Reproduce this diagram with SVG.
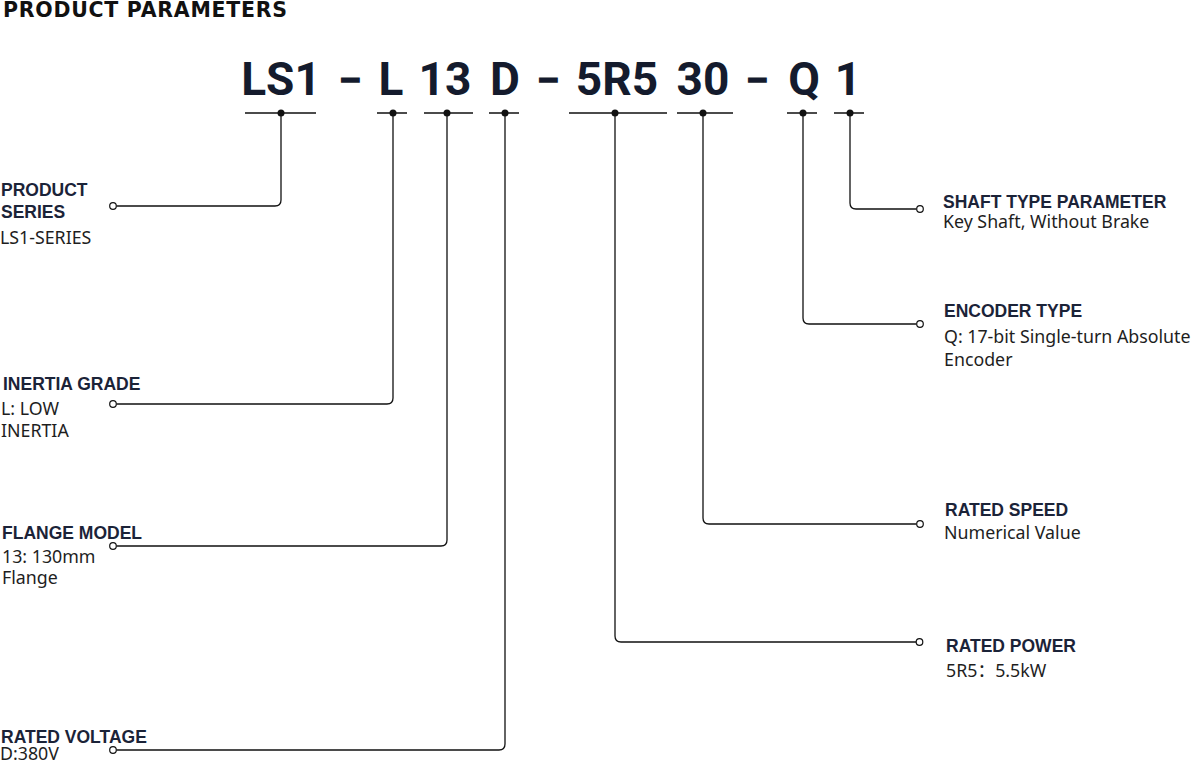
<svg xmlns="http://www.w3.org/2000/svg" width="1194" height="763" viewBox="0 0 1194 763">
<style>
.title{font-family:"DejaVu Sans","Liberation Sans",sans-serif;font-weight:700;font-size:20.5px;fill:#111}
.code{font-family:Roboto,"Liberation Sans",sans-serif;font-weight:700;font-size:46px;fill:#141b2d;text-anchor:middle}
.dash{font-family:Roboto,"Liberation Sans",sans-serif;font-weight:700;font-size:34px;fill:#141b2d;stroke:#141b2d;stroke-width:1.6;text-anchor:middle}
.hd{font-family:"Liberation Sans",Arial,sans-serif;font-weight:700;font-size:17.5px;fill:#1b2338}
.ds{font-family:"Noto Sans","Noto Sans CJK SC",sans-serif;font-size:17.8px;fill:#1e1e1e}
.ln{fill:none;stroke:#111;stroke-width:1.3}
.dot{fill:#111}
.end{fill:#fff;stroke:#111;stroke-width:1.2}
</style>
<rect width="1194" height="763" fill="#fff"/>
<text class="title" x="3" y="17" textLength="284">PRODUCT PARAMETERS</text>
<g id="code">
<text class="code" x="281" y="95">LS1</text>
<text class="dash" x="350" y="92">–</text>
<text class="code" x="391" y="95">L</text>
<text class="code" x="445" y="95">13</text>
<text class="code" x="505" y="95">D</text>
<text class="dash" x="548" y="92">–</text>
<text class="code" x="617" y="95">5R5</text>
<text class="code" x="703" y="95">30</text>
<text class="dash" x="757" y="92">–</text>
<text class="code" x="804" y="95">Q</text>
<text class="code" x="848" y="95">1</text>
</g>
<g id="connectors">
<path class="ln" d="M245 113H316M377 113H407M424 113H473M489 113H519M569 113H667M677 113H733M787 113H817M834 113H864"/>
<path class="ln" d="M281 113V200Q281 206 275 206H116.5"/>
<path class="ln" d="M393 113V398Q393 404 387 404H116.5"/>
<path class="ln" d="M447 113V540Q447 546 441 546H116.5"/>
<path class="ln" d="M505 113V744Q505 750 499 750H116.5"/>
<path class="ln" d="M615 113V636Q615 642 621 642H916"/>
<path class="ln" d="M703 113V518Q703 524 709 524H916.5"/>
<path class="ln" d="M803 113V318Q803 324 809 324H916.5"/>
<path class="ln" d="M850 113V203Q850 209 856 209H916.5"/>
<circle class="dot" cx="281" cy="113" r="3.5"/>
<circle class="dot" cx="393" cy="113" r="3.5"/>
<circle class="dot" cx="447" cy="113" r="3.5"/>
<circle class="dot" cx="505" cy="113" r="3.5"/>
<circle class="dot" cx="615" cy="113" r="3.5"/>
<circle class="dot" cx="703" cy="113" r="3.5"/>
<circle class="dot" cx="803" cy="113" r="3.5"/>
<circle class="dot" cx="850" cy="113" r="3.5"/>
<circle class="end" cx="113" cy="206" r="3.3"/>
<circle class="end" cx="113" cy="404" r="3.3"/>
<circle class="end" cx="113" cy="546" r="3.3"/>
<circle class="end" cx="113" cy="750" r="3.3"/>
<circle class="end" cx="919.5" cy="642" r="3.3"/>
<circle class="end" cx="920" cy="524" r="3.3"/>
<circle class="end" cx="920" cy="324" r="3.3"/>
<circle class="end" cx="920" cy="209" r="3.3"/>
</g>
<g id="product-series">
<text class="hd" x="1" y="196">PRODUCT</text>
<text class="hd" x="1" y="218">SERIES</text>
<text class="ds" x="0" y="244">LS1-SERIES</text>
</g>
<g id="inertia-grade">
<text class="hd" x="3" y="390">INERTIA GRADE</text>
<text class="ds" x="1" y="415">L: LOW</text>
<text class="ds" x="1" y="437">INERTIA</text>
</g>
<g id="flange-model">
<text class="hd" x="2" y="539">FLANGE MODEL</text>
<text class="ds" x="2" y="563">13: 130mm</text>
<text class="ds" x="2" y="584">Flange</text>
</g>
<g id="rated-voltage">
<text class="hd" x="1" y="743">RATED VOLTAGE</text>
<text class="ds" x="0" y="760">D:380V</text>
</g>
<g id="shaft-type">
<text class="hd" x="943" y="208">SHAFT TYPE PARAMETER</text>
<text class="ds" x="943" y="228">Key Shaft, Without Brake</text>
</g>
<g id="encoder-type">
<text class="hd" x="944" y="317">ENCODER TYPE</text>
<text class="ds" x="944" y="343">Q: 17-bit Single-turn Absolute</text>
<text class="ds" x="944" y="366">Encoder</text>
</g>
<g id="rated-speed">
<text class="hd" x="945" y="516">RATED SPEED</text>
<text class="ds" x="944" y="539">Numerical Value</text>
</g>
<g id="rated-power">
<text class="hd" x="946" y="652">RATED POWER</text>
<text class="ds" x="946" y="677">5R5：5.5kW</text>
</g>
</svg>
